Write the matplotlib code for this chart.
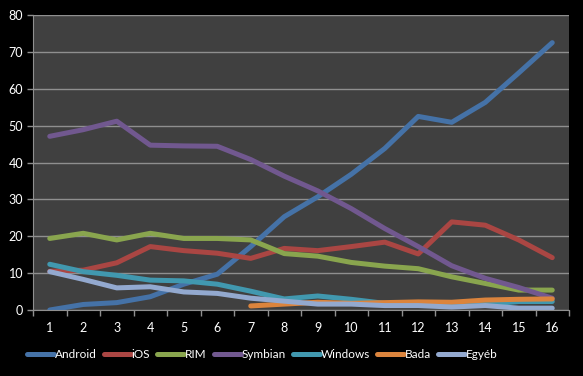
import matplotlib
matplotlib.use("Agg")
import matplotlib.pyplot as plt
import numpy as np

quarters = list(range(1, 17))
android = [0.0, 1.5, 2.0, 3.6, 7.0, 9.7, 17.2, 25.3, 30.7, 36.8, 43.8, 52.5, 50.9, 56.3, 64.3, 72.5]
ios = [10.5, 10.8, 12.8, 17.2, 16.1, 15.4, 14.0, 16.7, 16.1, 17.2, 18.4, 15.2, 23.9, 23.0, 19.0, 14.2]
rim = [19.4, 20.8, 19.0, 20.8, 19.4, 19.4, 19.0, 15.3, 14.6, 12.9, 11.9, 11.2, 9.0, 7.2, 5.4, 5.4]
symbian = [47.1, 48.9, 51.2, 44.7, 44.5, 44.4, 40.8, 36.3, 32.3, 27.5, 22.1, 17.2, 12.0, 8.6, 6.1, 3.2]
windows = [12.4, 10.4, 9.4, 8.1, 7.9, 7.0, 5.1, 3.0, 3.8, 2.9, 1.8, 1.8, 1.4, 1.5, 2.3, 2.3]
bada_x = list(range(7, 17))
bada = [1.1, 1.6, 2.1, 1.8, 2.0, 2.2, 2.1, 2.7, 2.9, 3.0]
egyeb = [10.4, 8.3, 6.0, 6.3, 4.9, 4.5, 3.2, 2.4, 1.6, 1.6, 1.2, 1.2, 0.8, 1.2, 0.5, 0.5]

plt.rcParams['font.family'] = ['Lato', 'DejaVu Sans']

fig = plt.figure(figsize=(5.83, 3.76), dpi=100, facecolor='black')
ax = fig.add_axes([33/583, 1-310/376, (569-33)/583, (310-15)/376])
ax.set_facecolor('#404040')

lw = 3.6
series = [
    ('Android', quarters, android, '#4572A7'),
    ('iOS', quarters, ios, '#AA4643'),
    ('RIM', quarters, rim, '#89A54E'),
    ('Symbian', quarters, symbian, '#71588F'),
    ('Windows', quarters, windows, '#4198AF'),
    ('Bada', bada_x, bada, '#DB843D'),
    ('Egyéb', quarters, egyeb, '#93A9CF'),
]
for name, xs, ys, c in series:
    ax.plot(xs, ys, color=c, lw=lw, label=name, solid_capstyle='round', solid_joinstyle='round')

ax.set_xlim(0.5, 16.5)
ax.set_ylim(0, 80)
ax.set_yticks(range(0, 81, 10))
ax.yaxis.grid(True, color='#8f8f8f', lw=1)
ax.set_axisbelow(True)
ax.set_xticks(quarters)
ax.set_xticklabels([str(q) for q in quarters])
ax.set_xticks(np.arange(0.5, 17, 1), minor=True)
ax.tick_params(axis='x', which='major', length=0, pad=9, colors='white', labelsize=9)
ax.tick_params(axis='x', which='minor', length=4, color='#8f8f8f', width=1)
ax.tick_params(axis='y', length=4, color='#8f8f8f', width=1, colors='white', labelsize=9, pad=3)
for lab in ax.get_yticklabels() + ax.get_xticklabels():
    lab.set_color('white')
for s in ['top', 'right']:
    ax.spines[s].set_visible(False)
ax.spines['left'].set_color('#8f8f8f')
ax.spines['bottom'].set_color('#8f8f8f')

leg = fig.legend(loc='center', bbox_to_anchor=(0.45, 1-355/376), ncol=7, frameon=False,
                 fontsize=8.5, handlelength=2.3, handletextpad=0.05, columnspacing=0.6,
                 labelcolor='white', borderpad=0)

fig.savefig('out.png', dpi=100, facecolor='black')
